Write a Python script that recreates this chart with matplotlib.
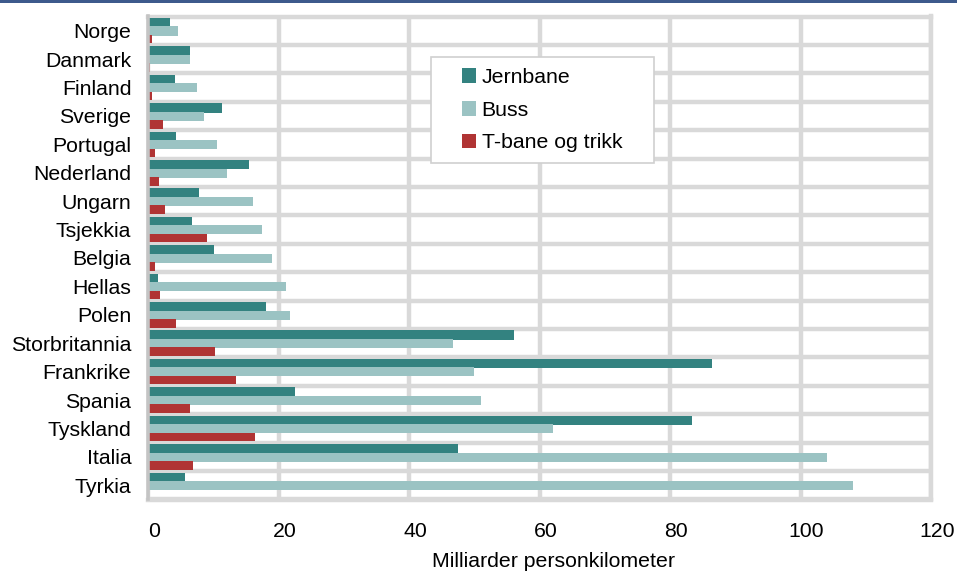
import matplotlib
matplotlib.use("Agg")
import matplotlib.pyplot as plt
import numpy as np
from matplotlib.patches import Rectangle
from matplotlib.transforms import ScaledTranslation

plt.rcParams['font.family'] = ['Liberation Sans', 'DejaVu Sans']

# Passasjertransport per land (milliarder personkilometer)
countries = ["Norge", "Danmark", "Finland", "Sverige", "Portugal", "Nederland",
             "Ungarn", "Tsjekkia", "Belgia", "Hellas", "Polen", "Storbritannia",
             "Frankrike", "Spania", "Tyskland", "Italia", "Tyrkia"]
jernbane = [3.3, 6.5, 4.2, 11.35, 4.25, 15.5, 7.85, 6.8, 10.15, 1.5, 18.05,
            56.1, 86.4, 22.6, 83.4, 47.5, 5.6]
buss = [4.55, 6.4, 7.55, 8.6, 10.6, 12.15, 16.05, 17.45, 19.0, 21.1, 21.7,
        46.7, 50.0, 51.1, 62.05, 104.0, 108.1]
tbane = [0.65, 0.3, 0.55, 2.35, 1.1, 1.65, 2.55, 9.1, 1.1, 1.8, 4.35,
         10.2, 13.5, 6.4, 16.4, 6.95, 0.0]
series_names = ["Jernbane", "Buss", "T-bane og trikk"]
x_ticks = [0, 20, 40, 60, 80, 100, 120]
x_label = "Milliarder personkilometer"

c_jern = "#338280"
c_buss = "#9BC3C3"
c_tbane = "#B03434"
grid_c = "#D9D9D9"
FS = 15.3

W, H = 957, 572
fig = plt.figure(figsize=(W / 100, H / 100), dpi=100)
fig.patch.set_facecolor("white")

# top accent strip
fig.patches.append(Rectangle((0, 1 - 3 / H), 1, 3 / H, transform=fig.transFigure,
                             facecolor="#3D5A8C", edgecolor="none"))

left, right, top, bottom = 148, 931, 16.5, 499.5
ax = fig.add_axes([left / W, 1 - bottom / H, (right - left) / W, (bottom - top) / H])

y = np.arange(len(countries))
ax.barh(y - 0.285, jernbane, height=0.33, color=c_jern, zorder=3, label=series_names[0])
ax.barh(y + 0.01, buss, height=0.32, color=c_buss, zorder=3, label=series_names[1])
ax.barh(y + 0.30, tbane, height=0.30, color=c_tbane, zorder=3, label=series_names[2])

ax.set_xlim(0, 120)
ax.set_ylim(len(countries) - 0.5, -0.5)
ax.set_xticks(x_ticks)
ax.set_xticklabels([str(t) for t in x_ticks])
ax.set_yticks(y)
ax.set_yticklabels(countries)
ax.set_yticks(np.arange(len(countries) + 1) - 0.5, minor=True)

ax.grid(axis="x", which="major", color=grid_c, linewidth=3.2, zorder=0)
ax.grid(axis="y", which="minor", color=grid_c, linewidth=3.2, zorder=0)
ax.set_axisbelow(True)

ax.tick_params(axis="both", which="both", length=0)
ax.tick_params(axis="x", pad=16, labelsize=FS)
ax.tick_params(axis="y", pad=12, labelsize=FS)
for lbl in ax.get_xticklabels():
    lbl.set_transform(lbl.get_transform() + ScaledTranslation(6 / 100, 0, fig.dpi_scale_trans))

for side in ("top", "right", "bottom"):
    ax.spines[side].set_color(grid_c)
    ax.spines[side].set_linewidth(3.2)
ax.spines["left"].set_color("#C4C4C4")
ax.spines["left"].set_linewidth(2.6)
ax.spines["left"].set_zorder(4)

fig.text(554 / W, 5 / H, x_label, ha="center", va="baseline", fontsize=FS)

# legend box
lx0, ly0, lx1, ly1 = 431, 57, 654, 163
fig.patches.append(Rectangle((lx0 / W, 1 - ly1 / H), (lx1 - lx0) / W, (ly1 - ly0) / H,
                             transform=fig.transFigure, facecolor="white",
                             edgecolor="#D0D0D0", linewidth=1.2, zorder=5))
leg = fig.legend(loc="upper left", bbox_to_anchor=(447 / W, 1 - 53 / H),
                 frameon=False, fontsize=FS, handlelength=0.68, handleheight=0.68,
                 handletextpad=0.25, labelspacing=0.65, borderpad=0.2)
leg.set_zorder(6)

fig.savefig("out.png", dpi=100)
